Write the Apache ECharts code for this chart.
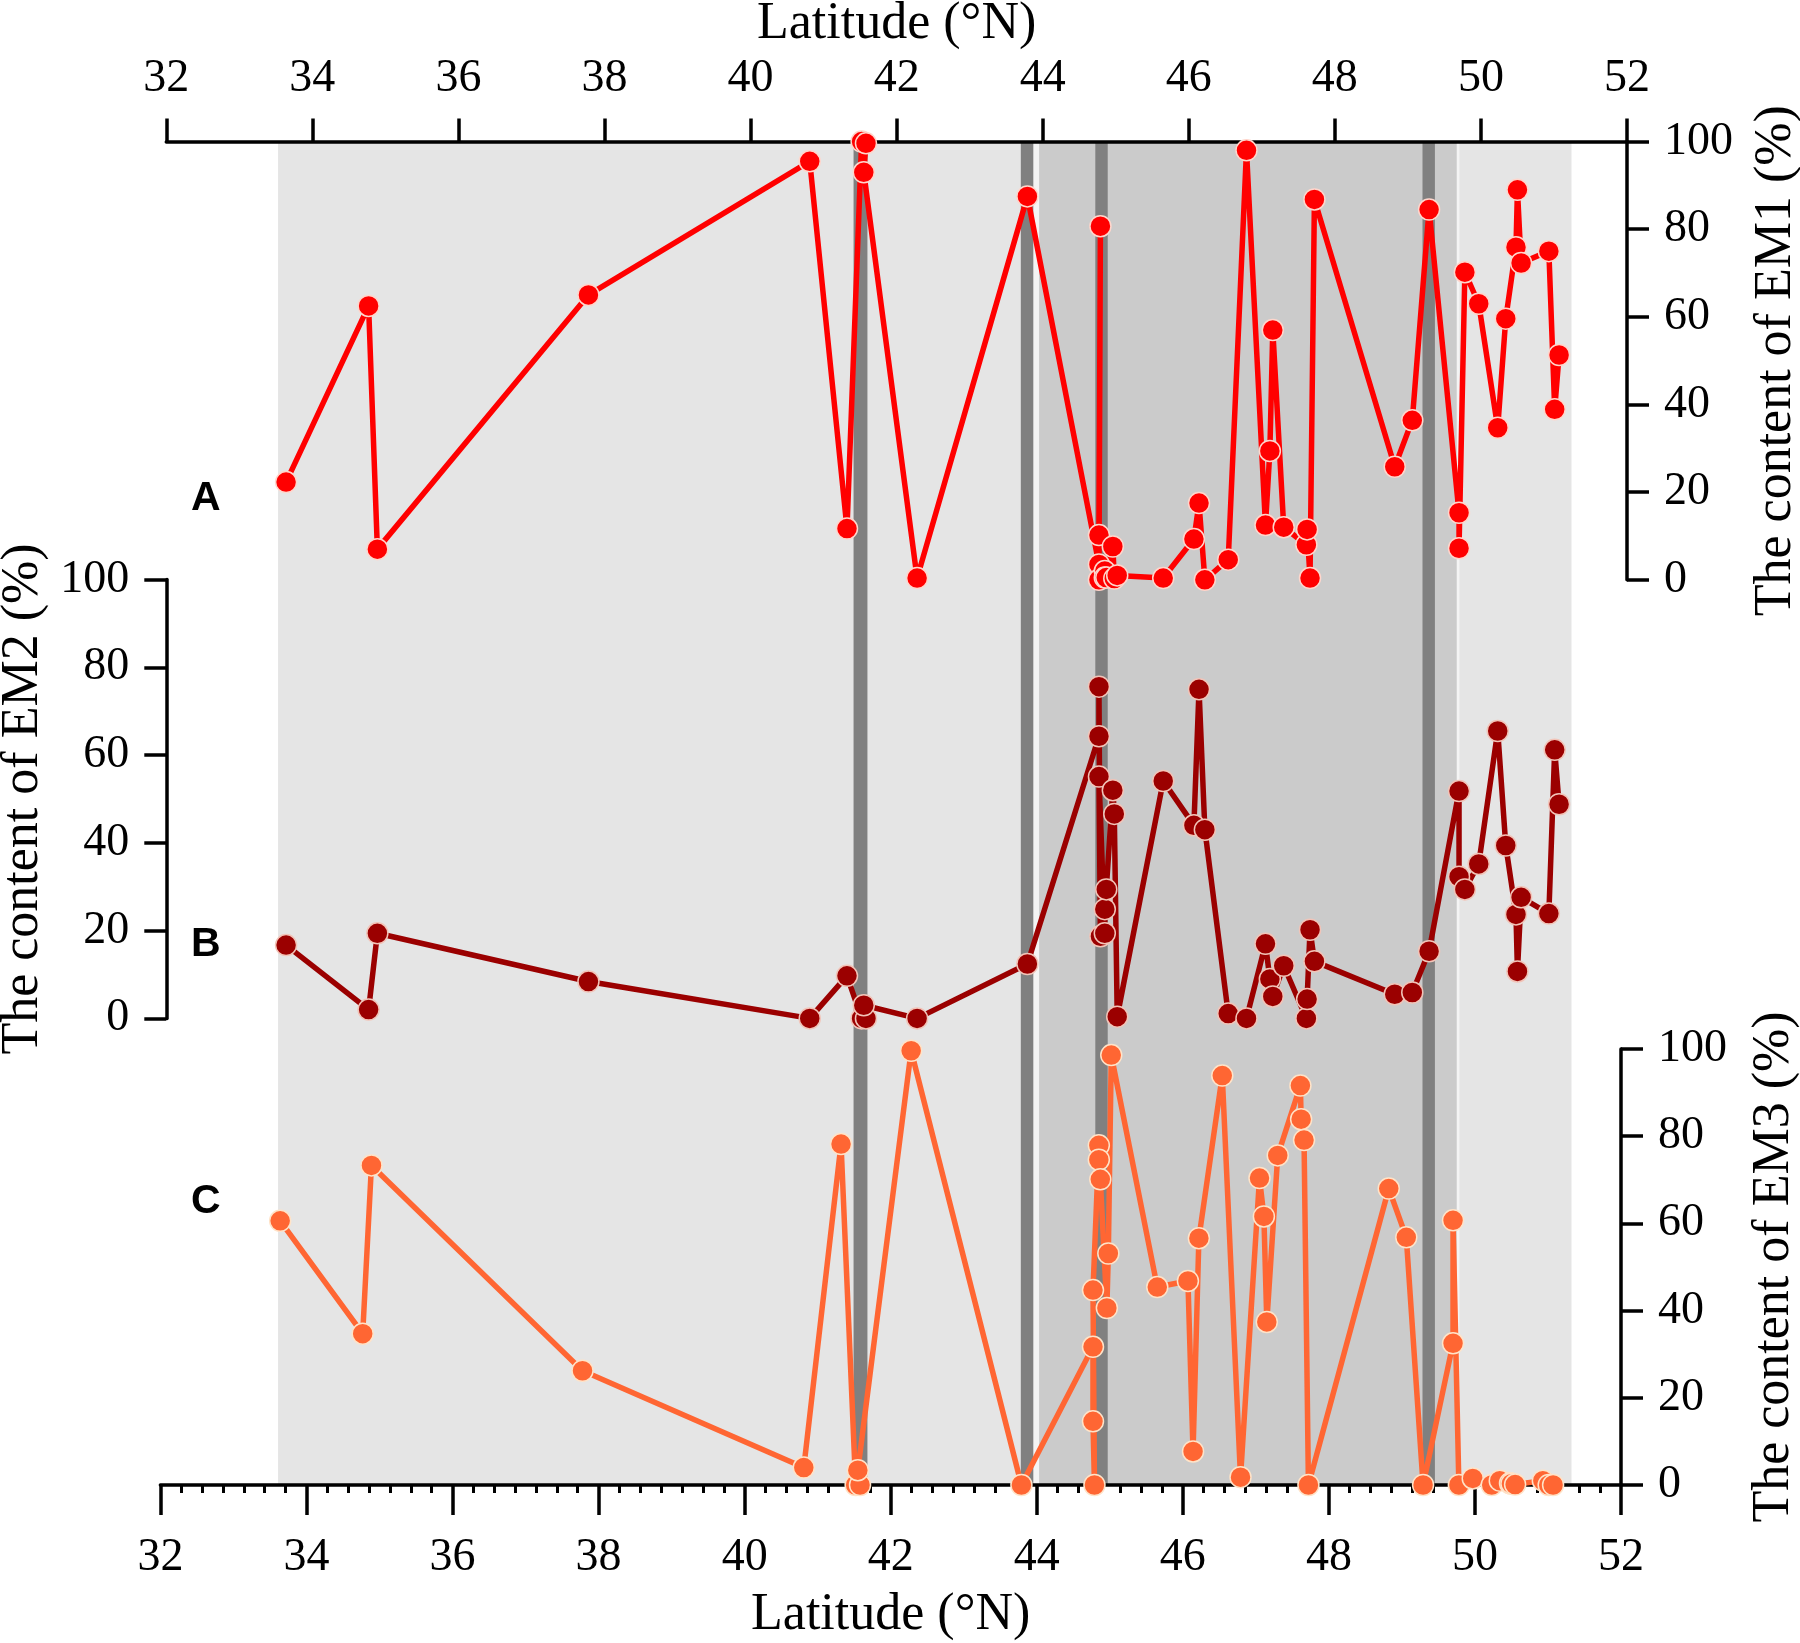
<!DOCTYPE html>
<html>
<head>
<meta charset="utf-8">
<title>EM1 / EM2 / EM3 content vs latitude</title>
<script src="https://cdn.jsdelivr.net/npm/echarts@6/dist/echarts.min.js"></script>
<style>
  html, body { margin: 0; padding: 0; background: #fff; }
  #main { width: 1800px; height: 1643px; }
</style>
</head>
<body>
<div id="main"></div>
<script>
// sample latitudes (°N), same samples in all three panels
var latitude = [33.64, 34.77, 34.89, 37.78, 40.81, 41.32, 41.52, 41.58, 41.55, 42.28, 43.79,
    44.77, 44.77, 44.79, 44.77, 44.85, 44.85, 44.87, 44.96, 44.98, 45.02,
    45.65, 46.07, 46.14, 46.22, 46.54, 46.79, 47.05, 47.11, 47.15, 47.30, 47.61, 47.62, 47.66, 47.72,
    48.82, 49.06, 49.29, 49.70, 49.70, 49.78, 49.97, 50.23, 50.34, 50.48, 50.50, 50.55, 50.93, 51.01, 51.07];

// end-member contents (%)
var em1 = [22.3, 62.5, 7, 65, 95.5, 11.7, 100, 99.6, 93, 0.4, 87.5,
    3.5, 10.2, 80.7, 0, 2, 0.5, 0.5, 7.6, 0.3, 1,
    0.4, 9.3, 17.5, 0, 4.6, 98, 12.5, 29.4, 57, 12, 8, 11.5, 0.4, 86.8,
    25.8, 36.4, 84.5, 15.3, 7.2, 70.2, 63, 34.7, 59.6, 75.9, 89, 72.3, 75, 38.9, 51.3];
var em2 = [16.7, 2.0, 19.4, 8.4, 0, 9.7, 0, 0, 3, 0, 12.4,
    64.3, 75.6, 18.7, 55.1, 19.4, 24.9, 29.4, 52, 46.6, 0.4,
    54.1, 44, 75, 43, 1.1, 0, 17, 9, 5, 12, 0, 4.4, 20.2, 13,
    5.5, 5.9, 15.3, 51.8, 32.3, 29.4, 35.2, 65.5, 39.4, 23.7, 10.7, 27.6, 23.9, 61.2, 48.8];
var em3 = [60.6, 34.7, 73.3, 26.2, 4, 78.2, 0, 0, 3.4, 99.6, 0,
    31.7, 14.6, 0, 44.7, 77.9, 74.6, 70.1, 40.6, 53.1, 98.6,
    45.4, 46.8, 7.7, 56.6, 93.9, 1.8, 70.4, 61.6, 37.4, 75.6, 91.6, 83.9, 79.1, 0,
    68, 56.8, 0, 32.5, 60.7, 0, 1.5, 0, 1, 0.4, 0.3, 0.1, 1, 0, 0];

// background shading, [from, to] in latitude
var lightBands = [[33.53, 51.24]];
var midBands = [[43.95, 49.67]];
var gapLines = [[43.88, 43.95], [49.67, 49.705]];
var darkBands = [[41.41, 41.60], [43.70, 43.87], [44.72, 44.89], [49.20, 49.37]];

var latTicks = [32, 52, 2];   // min, max, step
var pctTicks = [0, 100, 20];

var serif = "'Liberation Serif', 'Times New Roman', serif";
var sans = "'Liberation Sans', Arial, sans-serif";

function pairs(ys) {
    return latitude.map(function (x, i) { return [x, ys[i]]; });
}

function bandRender(params, api) {
    var a = api.coord([api.value(0), 1]);
    var b = api.coord([api.value(1), 0]);
    return {
        type: 'rect',
        shape: { x: a[0], y: a[1], width: b[0] - a[0], height: b[1] - a[1] },
        style: { fill: api.visual('color') }
    };
}

function bandSeries(data, color) {
    return {
        type: 'custom', xAxisIndex: 0, yAxisIndex: 0, z: 0, silent: true,
        renderItem: bandRender, encode: { x: [0, 1] },
        itemStyle: { color: color }, data: data
    };
}

function latAxis(grid, pos, show) {
    return {
        type: 'value', gridIndex: grid, position: pos, show: show, z: 1,
        min: latTicks[0], max: latTicks[1], interval: latTicks[2],
        splitLine: { show: false },
        axisLine: { show: true, onZero: false, lineStyle: { color: '#000', width: 3.5 } },
        axisTick: { show: true, inside: false, length: 23, lineStyle: { color: '#000', width: 3.5 } },
        axisLabel: { color: '#000', fontFamily: serif, fontSize: 46, margin: 40 },
        name: 'Latitude (°N)', nameLocation: 'middle', nameGap: 91,
        nameTextStyle: { color: '#000', fontFamily: serif, fontSize: 52 }
    };
}

function pctAxis(grid, pos, label, gap) {
    return {
        type: 'value', gridIndex: grid, position: pos, z: 1,
        min: pctTicks[0], max: pctTicks[1], interval: pctTicks[2],
        splitLine: { show: false },
        axisLine: { show: true, onZero: false, lineStyle: { color: '#000', width: 3.5 } },
        axisTick: { show: true, inside: false, length: 22, lineStyle: { color: '#000', width: 3.5 } },
        axisLabel: { color: '#000', fontFamily: serif, fontSize: 46, margin: 37 },
        name: label, nameLocation: 'middle', nameGap: gap, nameRotate: 90,
        nameTextStyle: { color: '#000', fontFamily: serif, fontSize: 52 }
    };
}

function lineSeries(name, idx, ys, color, border) {
    return {
        name: name, type: 'line', xAxisIndex: idx, yAxisIndex: idx, z: 2,
        data: pairs(ys), clip: false,
        symbol: 'circle', symbolSize: 21,
        lineStyle: { color: color, width: 5.5 },
        itemStyle: { color: color, borderColor: border, borderWidth: 1.5 }
    };
}

function gridBox(left, top, width, height) {
    return { left: left, top: top, width: width, height: height, containLabel: false, outerBoundsMode: 'none' };
}

var chart = echarts.init(document.getElementById('main'));

var bottomAxis = latAxis(3, 'bottom', true);
bottomAxis.axisTick.length = 30;
bottomAxis.axisLabel.margin = 50;
bottomAxis.nameGap = 104;
bottomAxis.minorTick = { show: true, splitNumber: 7, length: 8, lineStyle: { color: '#000', width: 3 } };

chart.setOption({
    animation: false,
    backgroundColor: '#fff',
    grid: [
        gridBox(166.3, 141.6, 1460.7, 1343.4),
        gridBox(166.3, 141.6, 1460.7, 438.2),
        gridBox(166.3, 579.6, 1460.7, 438.8),
        gridBox(160.4, 1049, 1460.6, 436)
    ],
    xAxis: [
        latAxis(0, 'bottom', false),
        latAxis(1, 'top', true),
        latAxis(2, 'bottom', false),
        bottomAxis
    ],
    yAxis: [
        { type: 'value', gridIndex: 0, min: 0, max: 1, show: false },
        pctAxis(1, 'right', 'The content of EM1 (%)', 123),
        pctAxis(2, 'left', 'The content of EM2 (%)', 116),
        pctAxis(3, 'right', 'The content of EM3 (%)', 127)
    ],
    graphic: [
        { type: 'text', left: 191, top: 478, style: { text: 'A', font: 'bold 41px ' + sans, fill: '#000' } },
        { type: 'text', left: 191, top: 924, style: { text: 'B', font: 'bold 41px ' + sans, fill: '#000' } },
        { type: 'text', left: 191, top: 1181, style: { text: 'C', font: 'bold 41px ' + sans, fill: '#000' } }
    ],
    series: [
        bandSeries(lightBands, '#e5e5e5'),
        bandSeries(midBands, '#cbcbcb'),
        bandSeries(gapLines, '#f4f4f4'),
        bandSeries(darkBands, '#808080'),
        lineSeries('EM1', 1, em1, '#ff0000', '#ffd6cc'),
        lineSeries('EM2', 2, em2, '#9b0000', '#f2c4b8'),
        lineSeries('EM3', 3, em3, '#ff6633', '#ffe3c8')
    ]
});
</script>
</body>
</html>
